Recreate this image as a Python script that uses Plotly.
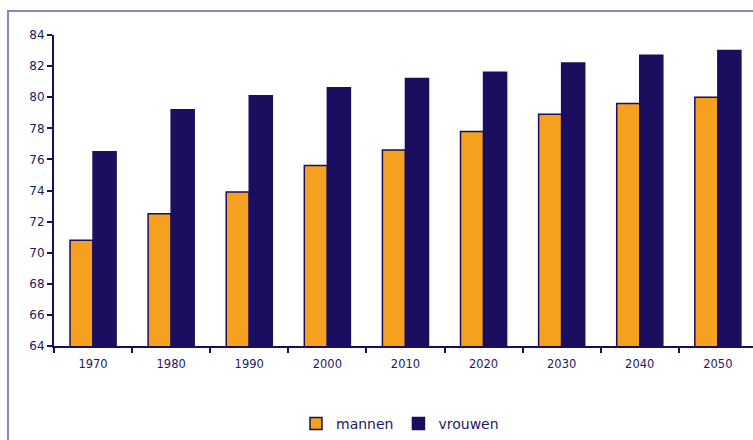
import plotly.graph_objects as go

years = ["1970", "1980", "1990", "2000", "2010", "2020", "2030", "2040", "2050"]
mannen = [70.8, 72.5, 73.9, 75.6, 76.6, 77.8, 78.9, 79.6, 80.0]
vrouwen = [76.5, 79.2, 80.1, 80.6, 81.2, 81.6, 82.2, 82.7, 83.0]

NAVY = "#1b0e5e"
ORANGE = "#f5a01e"
TXT = "#1f1866"

fig = go.Figure()
fig.add_trace(go.Bar(x=years, y=mannen, name="mannen",
                     marker=dict(color=ORANGE, line=dict(color=NAVY, width=1.5))))
fig.add_trace(go.Bar(x=years, y=vrouwen, name="vrouwen",
                     marker=dict(color=NAVY, line=dict(color=NAVY, width=1.5))))

W, H = 753, 440
L, R, T, B = 54, 0, 35, 94
pw, ph = W - L - R, H - T - B

fig.update_layout(
    width=W, height=H,
    margin=dict(l=L, r=R, t=T, b=B, pad=0),
    paper_bgcolor="white", plot_bgcolor="white",
    barmode="group", bargap=0.41, bargroupgap=0,
    font=dict(family="DejaVu Sans, Verdana, sans-serif", color=TXT),
    showlegend=True,
    legend=dict(orientation="h", x=(400 - L) / pw, xanchor="center",
                y=(H - B - 424) / ph, yanchor="middle",
                font=dict(size=14, color=TXT), itemwidth=30,
                bgcolor="rgba(0,0,0,0)"),
    xaxis=dict(type="category", range=[-0.5, 8.45], showline=True,
               linecolor=NAVY, linewidth=2, ticks="outside", tickson="boundaries",
               ticklen=5, tickwidth=2, tickcolor=NAVY, showgrid=False,
               ticklabelstandoff=6,
               tickfont=dict(size=11.5, color=TXT)),
    yaxis=dict(range=[64, 84], dtick=2, showline=True, linecolor=NAVY,
               linewidth=2, ticks="outside", ticklen=5, tickwidth=2,
               tickcolor=NAVY, showgrid=False, zeroline=False,
               tickfont=dict(size=12, color=TXT)),
)

# outer frame (starts at pixel (8,11) and runs off the right/bottom edge)
fig.add_shape(type="rect", xref="paper", yref="paper",
              x0=(8 - L) / pw, x1=1.05, y0=-0.5, y1=(H - B - 11) / ph,
              line=dict(color="#8a86b5", width=2), fillcolor="rgba(0,0,0,0)",
              layer="below")

fig.write_html("out.html")
